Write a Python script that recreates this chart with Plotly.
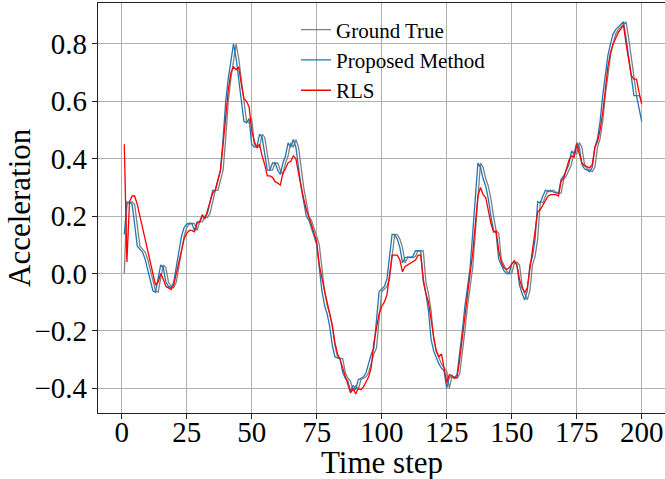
import plotly.graph_objects as go

time_step = list(range(1, 201))

ground_true = [
    0.0, 0.25, 0.245, 0.25, 0.24, 0.17, 0.095, 0.085, 0.075, 0.05,
    0.01, -0.03, -0.06, -0.065, -0.02, 0.03, 0.02, -0.03, -0.045, -0.05,
    -0.03, 0.02, 0.08, 0.13, 0.16, 0.172, 0.175, 0.174, 0.15, 0.18,
    0.18, 0.2, 0.195, 0.21, 0.25, 0.29, 0.29, 0.33, 0.36, 0.47,
    0.6, 0.68, 0.74, 0.8, 0.75, 0.68, 0.62, 0.53, 0.525, 0.54,
    0.45, 0.44, 0.44, 0.485, 0.475, 0.41, 0.36, 0.36, 0.385, 0.385,
    0.36, 0.345, 0.385, 0.41, 0.455, 0.44, 0.467, 0.44, 0.36, 0.3,
    0.25, 0.2, 0.185, 0.16, 0.13, 0.10, 0.02, -0.06, -0.11, -0.14,
    -0.185, -0.25, -0.29, -0.295, -0.296, -0.345, -0.365, -0.375, -0.41, -0.39,
    -0.405, -0.37, -0.365, -0.36, -0.345, -0.31, -0.28, -0.26, -0.15, -0.063,
    -0.055, -0.045, -0.02, 0.07, 0.137, 0.135, 0.12, 0.09, 0.037, 0.055,
    0.058, 0.055, 0.06, 0.08, 0.079, 0.079, -0.03, -0.07, -0.13, -0.23,
    -0.27, -0.294, -0.315, -0.33, -0.34, -0.4, -0.36, -0.36, -0.365, -0.35,
    -0.28, -0.2, -0.114, -0.05, 0.02, 0.14, 0.25, 0.385, 0.37, 0.33,
    0.305, 0.26, 0.2, 0.15, 0.14, 0.05, 0.03, 0.01, 0.0, 0.0,
    0.035, 0.04, 0.03, -0.04, -0.07, -0.092, -0.06, 0.03, 0.06, 0.12,
    0.25, 0.246, 0.27, 0.29, 0.285, 0.29, 0.284, 0.28, 0.28, 0.328,
    0.34, 0.36, 0.38, 0.427, 0.415, 0.456, 0.44, 0.38, 0.365, 0.36,
    0.355, 0.37, 0.44, 0.47, 0.53, 0.62, 0.7, 0.76, 0.8, 0.835,
    0.85, 0.86, 0.87, 0.877, 0.82, 0.75, 0.68, 0.62, 0.62, 0.6,
]

proposed = [
    0.136, 0.245, 0.25, 0.24, 0.17, 0.095, 0.085, 0.075, 0.05, 0.01,
    -0.03, -0.06, -0.065, -0.02, 0.03, 0.02, -0.03, -0.045, -0.05, -0.03,
    0.02, 0.08, 0.13, 0.16, 0.172, 0.175, 0.174, 0.15, 0.18, 0.18,
    0.2, 0.195, 0.21, 0.25, 0.29, 0.29, 0.33, 0.36, 0.47, 0.6,
    0.68, 0.74, 0.8, 0.75, 0.68, 0.62, 0.53, 0.525, 0.54, 0.45,
    0.44, 0.44, 0.485, 0.475, 0.41, 0.36, 0.36, 0.385, 0.385, 0.36,
    0.345, 0.385, 0.41, 0.455, 0.44, 0.467, 0.44, 0.36, 0.3, 0.25,
    0.2, 0.185, 0.16, 0.13, 0.10, 0.02, -0.06, -0.11, -0.14, -0.185,
    -0.25, -0.29, -0.295, -0.296, -0.345, -0.365, -0.375, -0.41, -0.39, -0.405,
    -0.37, -0.365, -0.36, -0.345, -0.31, -0.28, -0.26, -0.15, -0.063, -0.055,
    -0.045, -0.02, 0.07, 0.137, 0.135, 0.12, 0.09, 0.037, 0.055, 0.058,
    0.055, 0.06, 0.08, 0.079, 0.079, -0.03, -0.07, -0.13, -0.23, -0.27,
    -0.294, -0.315, -0.33, -0.34, -0.4, -0.36, -0.36, -0.365, -0.35, -0.28,
    -0.2, -0.114, -0.05, 0.02, 0.14, 0.25, 0.385, 0.37, 0.33, 0.305,
    0.26, 0.2, 0.15, 0.14, 0.05, 0.03, 0.01, 0.0, 0.0, 0.035,
    0.04, 0.03, -0.04, -0.07, -0.092, -0.06, 0.03, 0.06, 0.12, 0.25,
    0.246, 0.27, 0.29, 0.285, 0.29, 0.284, 0.28, 0.28, 0.328, 0.34,
    0.36, 0.38, 0.427, 0.415, 0.456, 0.44, 0.38, 0.365, 0.36, 0.355,
    0.37, 0.44, 0.47, 0.53, 0.62, 0.7, 0.76, 0.8, 0.835, 0.85,
    0.86, 0.87, 0.877, 0.82, 0.75, 0.68, 0.62, 0.62, 0.58, 0.53,
]

rls = [
    0.45, 0.04, 0.25, 0.27, 0.27, 0.24, 0.2, 0.16, 0.12, 0.08,
    0.04, -0.01, -0.04, -0.03, 0.0, -0.02, -0.045, -0.05, -0.056, -0.04,
    0.0, 0.04, 0.09, 0.12, 0.14, 0.15, 0.15, 0.145, 0.175, 0.18,
    0.205, 0.19, 0.22, 0.25, 0.28, 0.29, 0.33, 0.36, 0.45, 0.56,
    0.64, 0.7, 0.72, 0.71, 0.72, 0.66, 0.61, 0.6, 0.58, 0.5,
    0.46, 0.44, 0.45, 0.41, 0.38, 0.34, 0.34, 0.335, 0.32, 0.315,
    0.308, 0.35, 0.365, 0.386, 0.39, 0.41, 0.4, 0.35, 0.3, 0.26,
    0.223, 0.2, 0.17, 0.14, 0.11, 0.03, -0.02, -0.06, -0.1, -0.14,
    -0.18, -0.24, -0.28, -0.3, -0.33, -0.36, -0.39, -0.416, -0.4, -0.42,
    -0.4, -0.405, -0.395, -0.38, -0.36, -0.325, -0.24, -0.19, -0.14, -0.115,
    -0.1, -0.075, -0.01, 0.064, 0.064, 0.064, 0.047, 0.006, 0.025, 0.03,
    0.035, 0.04, 0.047, 0.064, 0.064, -0.02, -0.07, -0.1, -0.17, -0.22,
    -0.27, -0.29, -0.28, -0.324, -0.38, -0.353, -0.355, -0.365, -0.36, -0.3,
    -0.22, -0.14, -0.06, 0.0, 0.07, 0.18, 0.27, 0.3, 0.275, 0.265,
    0.22, 0.175, 0.145, 0.148, 0.08, 0.04, 0.02, 0.014, 0.02, 0.035,
    0.045, 0.03, -0.02, -0.05, -0.067, -0.05, 0.02, 0.07, 0.14, 0.215,
    0.223, 0.24, 0.255, 0.27, 0.275, 0.275, 0.275, 0.27, 0.322, 0.331,
    0.36, 0.395, 0.41, 0.405, 0.45, 0.42, 0.385, 0.376, 0.372, 0.368,
    0.38, 0.44, 0.46, 0.5, 0.56, 0.65, 0.72, 0.77, 0.8, 0.82,
    0.84, 0.852, 0.865, 0.8, 0.74, 0.69, 0.677, 0.677, 0.63, 0.59,
]

x_ticks = [0, 25, 50, 75, 100, 125, 150, 175, 200]
y_ticks = [-0.4, -0.2, 0.0, 0.2, 0.4, 0.6, 0.8]
y_tick_text = ["\u22120.4", "\u22120.2", "0.0", "0.2", "0.4", "0.6", "0.8"]

FONT = "Liberation Serif"
W, H = 665, 479
ML, MT, MB, MR = 98, 3, 66, 0
PW = W - ML - MR
PH = H - MT - MB

fig = go.Figure()
fig.add_trace(go.Scatter(x=time_step, y=ground_true, mode="lines", name="Ground True",
                         line=dict(color="#808080", width=1.3)))
fig.add_trace(go.Scatter(x=time_step, y=proposed, mode="lines", name="Proposed Method",
                         line=dict(color="#1f77b4", width=1.3)))
fig.add_trace(go.Scatter(x=time_step, y=rls, mode="lines", name="RLS",
                         line=dict(color="#ff0000", width=1.3)))

axis_common = dict(
    showgrid=True, gridcolor="#b0b0b0", gridwidth=1,
    showline=True, linecolor="#222222", linewidth=1.2,
    ticks="outside", ticklen=5, tickwidth=1, tickcolor="#222222",
    tickfont=dict(family=FONT, size=29, color="black"),
    zeroline=False,
)

fig.update_layout(
    width=W, height=H,
    margin=dict(l=ML, r=MR, t=MT, b=MB),
    paper_bgcolor="white", plot_bgcolor="white",
    xaxis=dict(range=[-9.115, 208.96], tickvals=x_ticks, mirror=True,
               ticklabelstandoff=-12, **axis_common),
    yaxis=dict(range=[-0.486, 0.9425], tickvals=y_ticks, ticktext=y_tick_text,
               mirror=False, ticklabelstandoff=-1, **axis_common),
    showlegend=True,
    legend=dict(
        x=(296 - ML) / PW, y=(H - MB - 9.5) / PH, xanchor="left", yanchor="top",
        bgcolor="rgba(0,0,0,0)", borderwidth=0,
        font=dict(family=FONT, size=21, color="black"),
    ),
    annotations=[
        dict(text="Time step", xref="paper", yref="paper",
             x=0.5, y=-(462 - (H - MB)) / PH, xanchor="center", yanchor="middle",
             showarrow=False, font=dict(family=FONT, size=31, color="black")),
        dict(text="Acceleration", xref="paper", yref="paper", textangle=-90,
             x=-(ML - 19) / PW, y=0.5, xanchor="center", yanchor="middle",
             showarrow=False, font=dict(family=FONT, size=31, color="black")),
    ],
)

fig.write_html("out.html")
